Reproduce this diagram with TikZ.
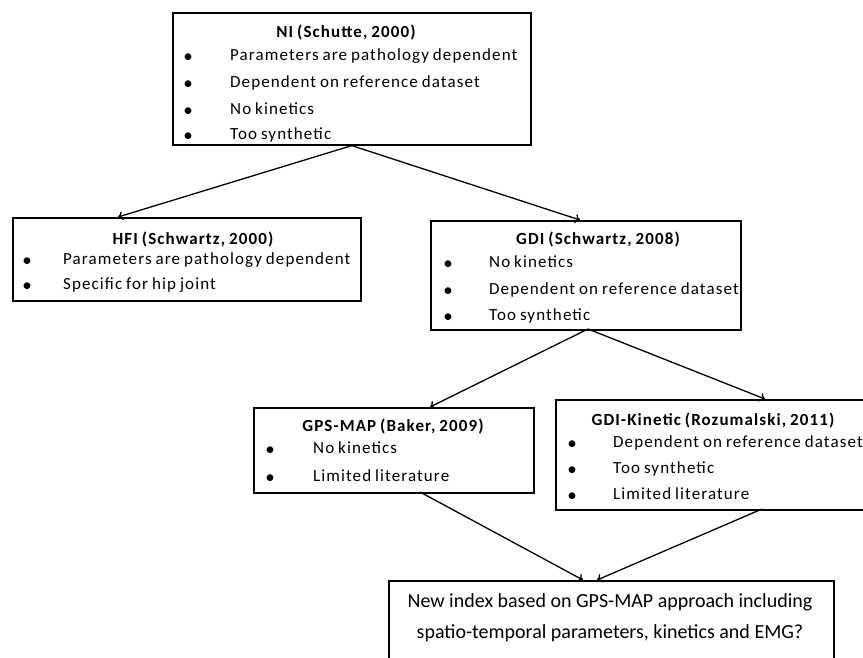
\documentclass[tikz,border=0pt]{standalone}
\usepackage{fontspec}
\setmainfont{Carlito}
\newfontfamily\boxfont[LetterSpace=6.5,WordSpace=0.8]{Carlito}
\usetikzlibrary{arrows.meta}

\begin{document}
\begin{tikzpicture}[x=1pt,y=-1pt,
    box/.style={draw,line width=1.6pt,anchor=north west,inner sep=0pt},
    ttl/.style={font=\boxfont\bfseries\fontsize{17}{20}\selectfont,inner sep=0pt},
    itm/.style={font=\boxfont\fontsize{17}{20}\selectfont,anchor=mid west,inner sep=0pt},
    bul/.style={font=\fontsize{19}{20}\selectfont,inner sep=0pt},
    big/.style={font=\fontsize{20}{24}\selectfont,inner sep=0pt},
    lnk/.style={line width=1.3pt,-{To[length=5pt,width=9pt]}}]
    \useasboundingbox(0,0)rectangle(863,657);
    \clip(0,0)rectangle(863,657);
    % boxes
    \node[box,minimum width=358pt,minimum height=132pt](ni)at(172,12){};
    \node[box,minimum width=348pt,minimum height=83pt](hfi)at(12,217){};
    \node[box,minimum width=310pt,minimum height=109pt](gdi)at(430,220){};
    \node[box,minimum width=280pt,minimum height=85pt](gps)at(253,407){};
    \node[box,minimum width=330pt,minimum height=110pt](gdik)at(555,399){};
    \node[box,minimum width=445pt,minimum height=100pt](new)at(388,580){};
    % titles
    \node[ttl](niT)at(346,32){NI (Schutte, 2000)};
    \node[ttl](hfiT)at(193,239){HFI (Schwartz, 2000)};
    \node[ttl](gdiT)at(598,239){GDI (Schwartz, 2008)};
    \node[ttl](gpsT)at(393,426){GPS-MAP (Baker, 2009)};
    \node[ttl](gdikT)at(713,420){GDI-Kinetic (Rozumalski, 2011)};
    % bullet lists
    \foreach \y/\v [count=\i] in {58/Parameters are pathology dependent,
      85/Dependent on reference dataset,112/No kinetics,137/Too synthetic}{
      \node[bul](niB\i)at(188,\y){•};
      \node[itm](niI\i)at(230,\y){\v};
    }
    \foreach \y/\v [count=\i] in {262/Parameters are pathology dependent,
      287/Specific for hip joint}{
      \node[bul](hfiB\i)at(27,\y){•};
      \node[itm](hfiI\i)at(63,\y){\v};
    }
    \foreach \y/\v [count=\i] in {265/No kinetics,
      292/Dependent on reference dataset,318/Too synthetic}{
      \node[bul](gdiB\i)at(448,\y){•};
      \node[itm](gdiI\i)at(489,\y){\v};
    }
    \foreach \y/\v [count=\i] in {451/No kinetics,479/Limited literature}{
      \node[bul](gpsB\i)at(270,\y){•};
      \node[itm](gpsI\i)at(313,\y){\v};
    }
    \foreach \y/\v [count=\i] in {445/Dependent on reference dataset,
      471/Too synthetic,497/Limited literature}{
      \node[bul](gdikB\i)at(572,\y){•};
      \node[itm](gdikI\i)at(613,\y){\v};
    }
    \node[big](newA)at(610,602){New index based on GPS-MAP approach including};
    \node[big](newB)at(610,633){spatio-temporal parameters, kinetics and EMG?};
    % connector ends
    \coordinate(hfiIn)at(118,217);
    \coordinate(gdiIn)at(580,220);
    \coordinate(gdiOut)at(588,329);
    \coordinate(gpsIn)at(430,407);
    \coordinate(gdikIn)at(765,399);
    \coordinate(gpsOut)at(420,492);
    \coordinate(gdikOut)at(762,509);
    \coordinate(newInA)at(583,580);
    \coordinate(newInB)at(597,580);
    \draw[lnk](ni.south)--(hfiIn);
    \draw[lnk](ni.south)--(gdiIn);
    \draw[lnk](gdiOut)--(gpsIn);
    \draw[lnk](gdiOut)--(gdikIn);
    \draw[lnk](gpsOut)--(newInA);
    \draw[lnk](gdikOut)--(newInB);
  \end{tikzpicture}
\end{document}
